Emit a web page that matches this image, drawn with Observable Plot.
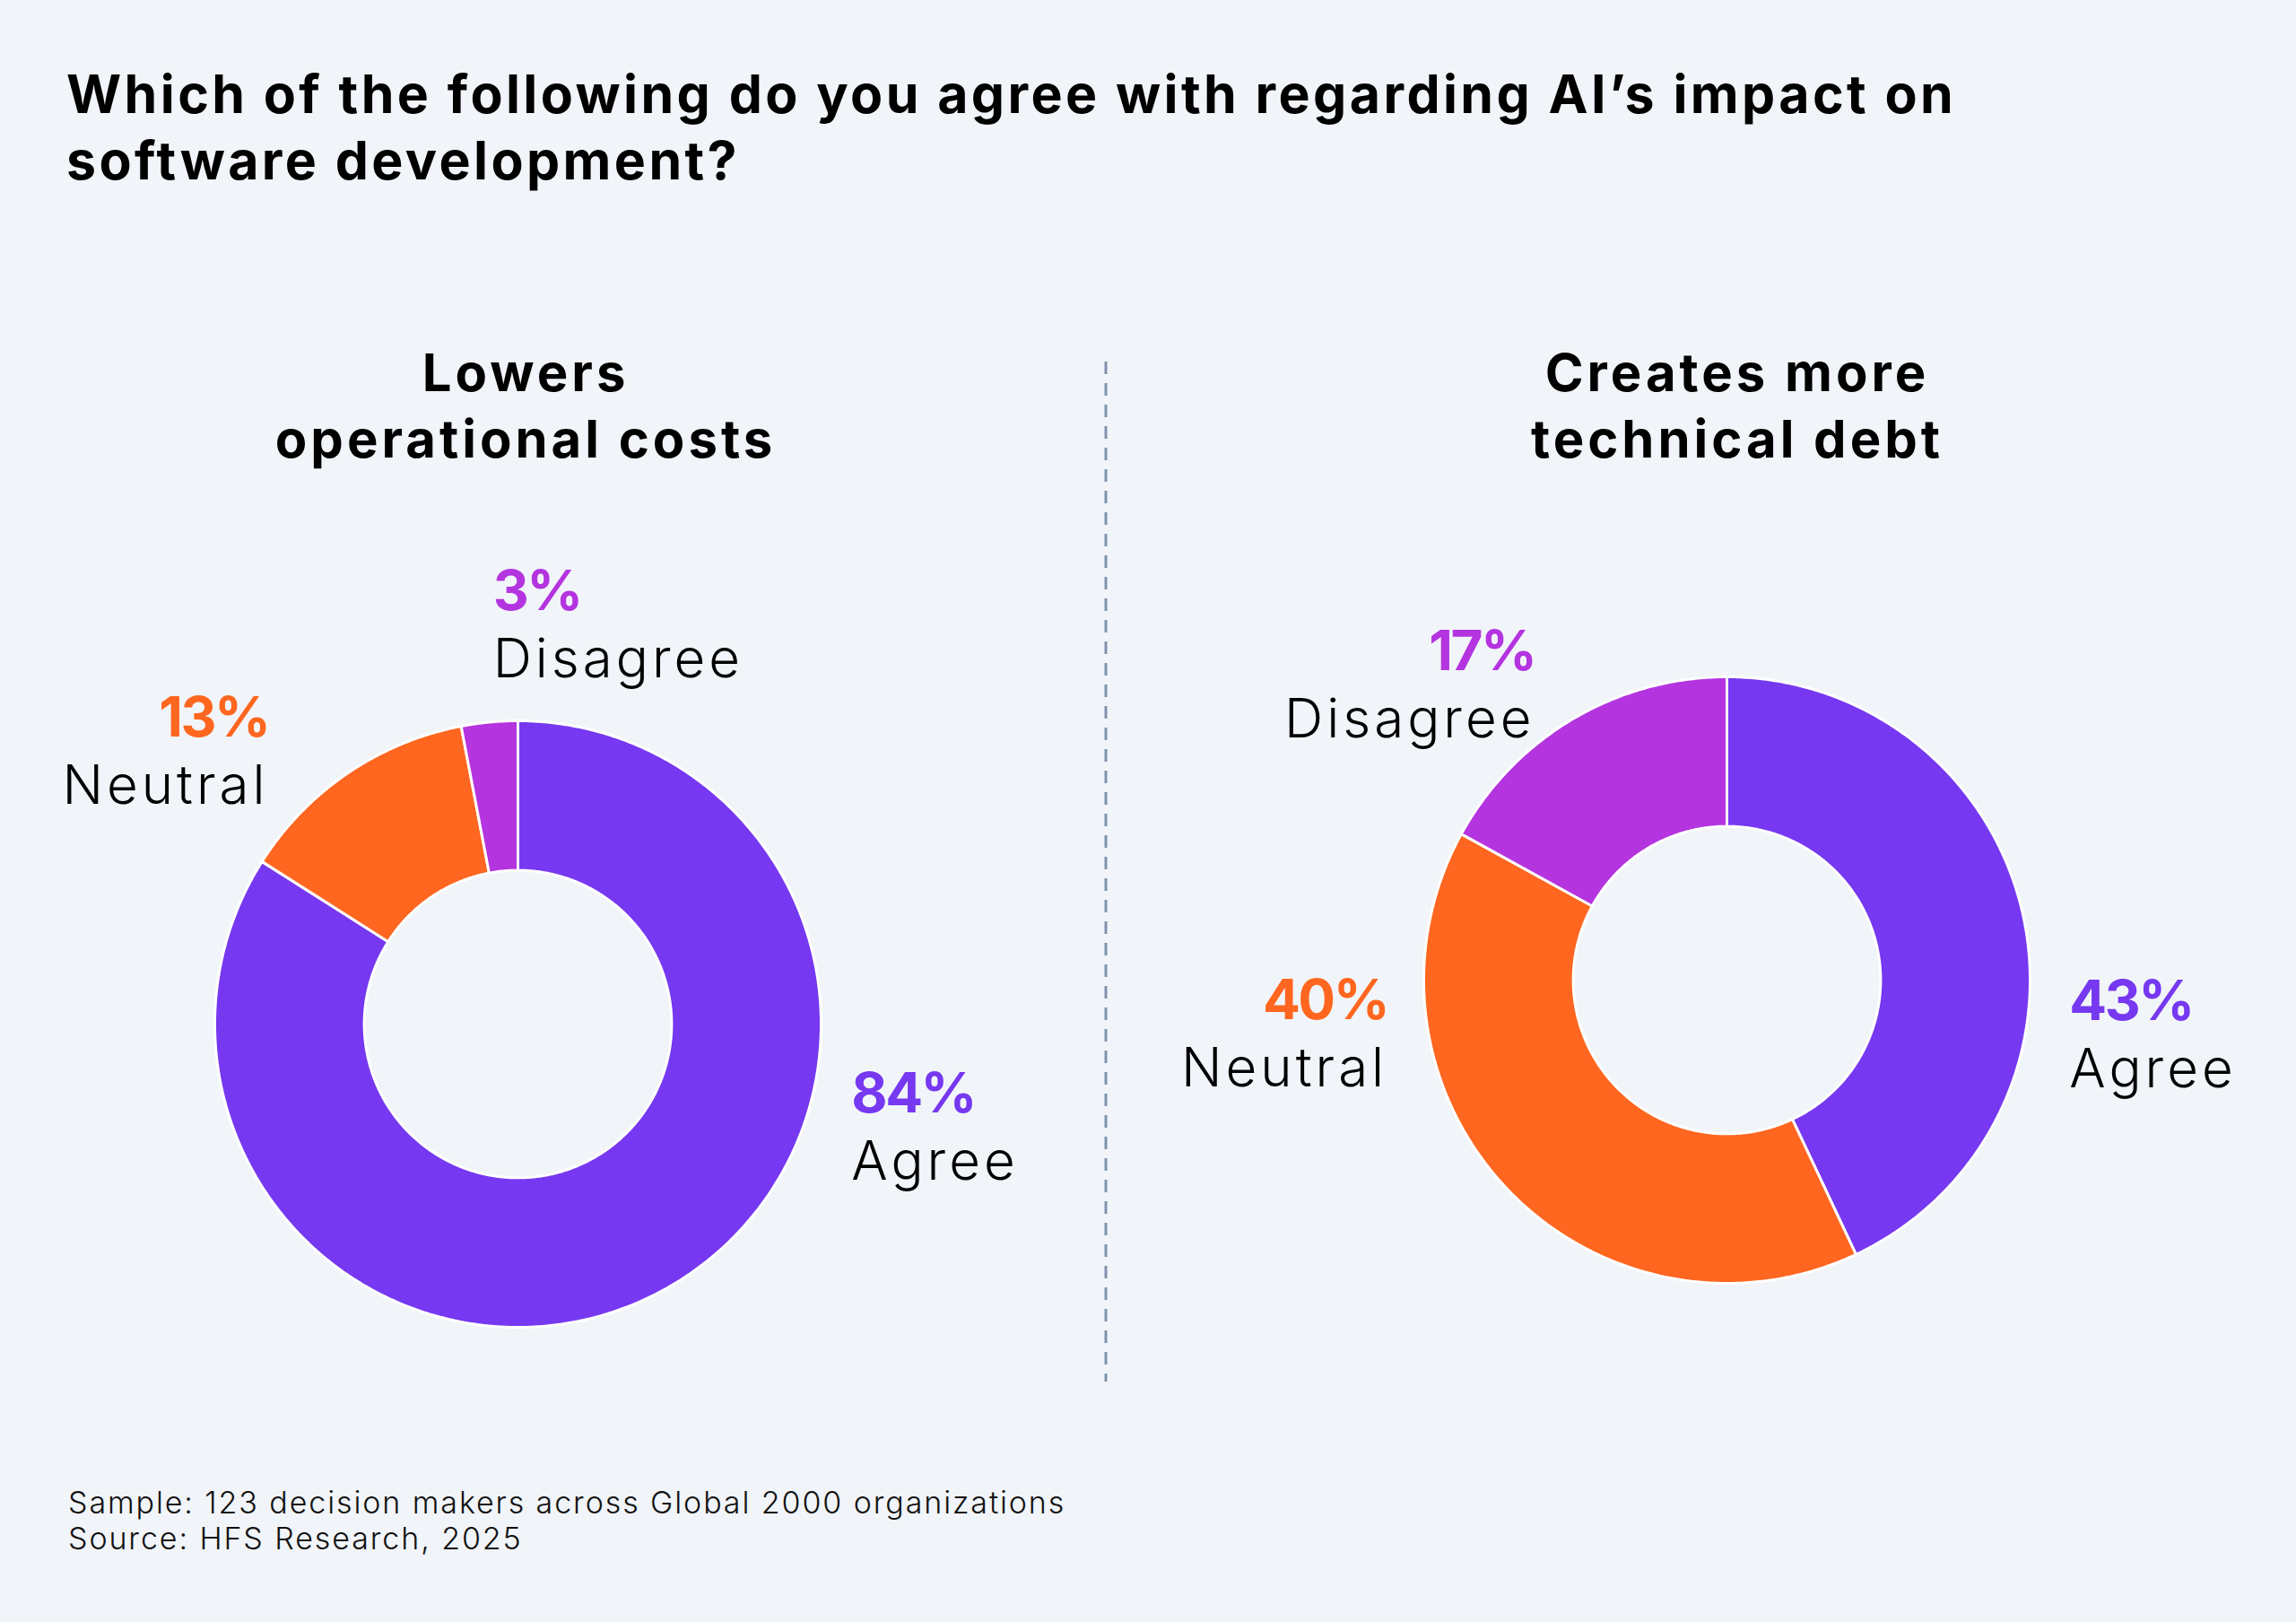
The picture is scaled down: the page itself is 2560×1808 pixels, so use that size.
<!DOCTYPE html>
<html>
<head>
<meta charset="utf-8">
<script src="https://cdn.jsdelivr.net/npm/d3@7"></script>
<script src="https://cdn.jsdelivr.net/npm/@observablehq/plot@0.6"></script>
<style>
  html, body { margin: 0; padding: 0; background: #f1f5f9; }
  #page {
    position: relative; width: 2560px; height: 1808px; overflow: hidden;
    background: #f1f5f9; color: #000;
    font-family: Inter, "Noto Sans", sans-serif;
  }
  .title {
    position: absolute; left: 74px; top: 68px; margin: 0;
    font-size: 59px; line-height: 74px; font-weight: 700; white-space: nowrap;
    letter-spacing: 3.4px;
  }
  .sub {
    position: absolute; top: 378px; margin: 0;
    font-size: 58px; line-height: 74px; font-weight: 700;
    text-align: center; white-space: nowrap; transform: translateX(-50%);
    letter-spacing: 4px;
  }
  .foot {
    position: absolute; left: 76px; top: 1655px;
    font-size: 34px; line-height: 40px; font-weight: 300; color: #111;
    letter-spacing: 1.9px;
  }
  .panel { position: absolute; }
  .panel svg { overflow: visible; }
</style>
</head>
<body>
<div id="page">
  <h1 class="title">Which of the following do you agree with regarding AI’s impact on<br>software development?</h1>
  <div class="foot">Sample: 123 decision makers across Global 2000 organizations<br>Source: HFS Research, 2025</div>
</div>
<script>
// Survey answers (percent of respondents)
const categories = ["Agree", "Neutral", "Disagree"];
const statements = [["Lowers", "operational costs"], ["Creates more", "technical debt"]];
const lowersCosts = [84, 13, 3];
const technicalDebt = [43, 40, 17];
const palette = ["#7638f0", "#ff661f", "#b434e0"];

// Layout: donut centres, radius and panel boxes in page pixels
const R = 338, innerRatio = 0.507;
const panels = [
  {values: lowersCosts, cx: 577, cy: 1141, left: 0, top: 560, width: 1230, height: 1040, subX: 586,
   nudges: {Agree: [209, -198, "start"], Neutral: [-88, -41, "end"], Disagree: [4, -125, "start"]}},
  {values: technicalDebt, cx: 1925, cy: 1092, left: 1240, top: 560, width: 1320, height: 1040, subX: 1937,
   nudges: {Agree: [52, 118, "start"], Neutral: [-132, -188, "end"], Disagree: [-42, -55, "end"]}}
];
const nameGap = 75;

const page = document.getElementById("page");

// Build slice outlines (outer arc then inner arc back), angles clockwise from 12 o'clock
function slices(values) {
  const total = d3.sum(values);
  const rows = [];
  const mids = [];
  let acc = 0;
  values.forEach((v, i) => {
    const a0 = acc / total, a1 = (acc + v) / total;
    acc += v;
    const n = Math.max(8, Math.ceil((a1 - a0) * 720));
    for (let k = 0; k <= n; k++) {
      const t = (a0 + (a1 - a0) * k / n) * 2 * Math.PI;
      rows.push({category: categories[i], x: Math.sin(t), y: Math.cos(t)});
    }
    for (let k = n; k >= 0; k--) {
      const t = (a0 + (a1 - a0) * k / n) * 2 * Math.PI;
      rows.push({category: categories[i], x: innerRatio * Math.sin(t), y: innerRatio * Math.cos(t)});
    }
    const tm = (a0 + a1) / 2 * 2 * Math.PI;
    mids.push({category: categories[i], value: v, x: Math.sin(tm), y: Math.cos(tm)});
  });
  return {rows, mids};
}

panels.forEach((p, idx) => {
  // Statement heading above each donut
  const sub = document.createElement("div");
  sub.className = "sub";
  sub.style.left = p.subX + "px";
  sub.innerHTML = statements[idx].join("<br>");
  page.appendChild(sub);

  const {rows, mids} = slices(p.values);
  const ox = p.cx - p.left, oy = p.cy - p.top;

  const labelMarks = mids.flatMap((m) => {
    const [dx, dy, anchor] = p.nudges[m.category];
    return [
      Plot.text([m], {
        x: "x", y: "y", text: (d) => `${d.value}%`, fill: "category",
        dx, dy, textAnchor: anchor, lineAnchor: "bottom",
        fontSize: 62, fontWeight: 700
      }),
      Plot.text([m], {
        x: "x", y: "y", text: "category", fill: "#000",
        dx, dy: dy + nameGap, textAnchor: anchor, lineAnchor: "bottom",
        fontSize: 60, fontWeight: 300
      })
    ];
  });

  const chart = Plot.plot({
    width: p.width,
    height: p.height,
    margin: 0,
    x: {domain: [-ox / R, (p.width - ox) / R], axis: null},
    y: {domain: [-(p.height - oy) / R, oy / R], axis: null},
    color: {domain: categories, range: palette},
    style: {background: "transparent", fontFamily: "Inter, 'Noto Sans', sans-serif", overflow: "visible"},
    marks: [
      Plot.line(rows, {
        x: "x", y: "y", z: "category", fill: "category",
        stroke: "#ffffff", strokeWidth: 3, strokeLinejoin: "round", curve: "linear-closed"
      }),
      ...labelMarks
    ]
  });

  // Wider tracking for category names, tighter for the percentages
  d3.select(chart).selectAll('g[font-weight="300"]').attr("letter-spacing", "4px");
  d3.select(chart).selectAll('g[font-weight="700"]').attr("letter-spacing", "-2.5px");

  const box = document.createElement("div");
  box.className = "panel";
  box.style.left = p.left + "px";
  box.style.top = p.top + "px";
  box.appendChild(chart);
  page.appendChild(box);
});

// Dashed divider between the two statements
const divider = d3.create("svg")
  .attr("width", 10).attr("height", 1150)
  .style("position", "absolute").style("left", "1228px").style("top", "400px");
divider.append("line")
  .attr("x1", 5).attr("x2", 5).attr("y1", 3).attr("y2", 1140)
  .attr("stroke", "#7f93ad").attr("stroke-width", 3).attr("stroke-dasharray", "14 10");
page.appendChild(divider.node());
</script>
</body>
</html>
